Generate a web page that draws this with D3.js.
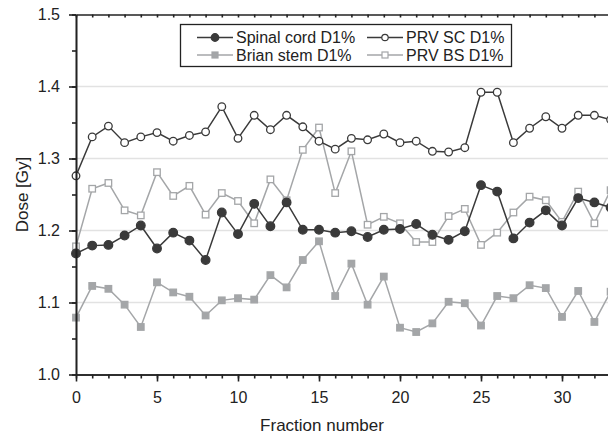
<!DOCTYPE html>
<html>
<head>
<meta charset="utf-8">
<script src="https://cdn.jsdelivr.net/npm/d3@7"></script>
<style>
  body { margin: 0; background: #fff; }
  svg { display: block; font-family: "Liberation Sans", Arial, sans-serif; }
</style>
</head>
<body>
<script>
const W = 608, H = 436;
const margin = { left: 76, top: 14.5 };
const plotH = 360;

// fraction numbers 0..33
const fractions = d3.range(0, 34);

const spinalCord = [1.168, 1.179, 1.180, 1.193, 1.207, 1.175, 1.197, 1.186, 1.159, 1.225,
  1.195, 1.237, 1.206, 1.239, 1.201, 1.201, 1.197, 1.199, 1.191, 1.201,
  1.202, 1.209, 1.194, 1.187, 1.199, 1.263, 1.254, 1.189, 1.211, 1.228,
  1.207, 1.245, 1.239, 1.232];
const prvSC = [1.276, 1.330, 1.345, 1.322, 1.330, 1.336, 1.324, 1.332, 1.337, 1.372,
  1.328, 1.360, 1.340, 1.360, 1.344, 1.324, 1.313, 1.328, 1.326, 1.334,
  1.322, 1.324, 1.310, 1.309, 1.315, 1.392, 1.392, 1.322, 1.342, 1.358,
  1.342, 1.360, 1.360, 1.354];
const brainStem = [1.079, 1.123, 1.119, 1.097, 1.066, 1.128, 1.114, 1.108, 1.082, 1.103,
  1.106, 1.104, 1.138, 1.121, 1.159, 1.185, 1.109, 1.154, 1.097, 1.136,
  1.065, 1.059, 1.071, 1.101, 1.099, 1.068, 1.109, 1.106, 1.124, 1.120,
  1.080, 1.116, 1.073, 1.115];
const prvBS = [1.178, 1.258, 1.266, 1.228, 1.221, 1.281, 1.248, 1.262, 1.222, 1.252,
  1.241, 1.210, 1.271, 1.242, 1.312, 1.343, 1.252, 1.310, 1.208, 1.219,
  1.210, 1.184, 1.184, 1.220, 1.230, 1.180, 1.197, 1.225, 1.247, 1.242,
  1.212, 1.254, 1.210, 1.256];

const xTicks = [0, 5, 10, 15, 20, 25, 30];
const yTicks = [1.0, 1.1, 1.2, 1.3, 1.4, 1.5];
const yGrid = [1.1, 1.2, 1.3, 1.4];

const dark = '#3a3a3a';
const gray = '#a4a6a8';

const series = [
  { name: 'Brian stem D1%', values: brainStem, color: gray, shape: 'square', fill: gray },
  { name: 'PRV BS D1%', values: prvBS, color: gray, shape: 'square', fill: '#fff' },
  { name: 'PRV SC D1%', values: prvSC, color: dark, shape: 'circle', fill: '#fff' },
  { name: 'Spinal cord D1%', values: spinalCord, color: dark, shape: 'circle', fill: dark }
];

const x = d3.scaleLinear().domain([0, 35]).range([margin.left, margin.left + 35 * 16.2]);
const y = d3.scaleLinear().domain([1.0, 1.5]).range([margin.top + plotH, margin.top]);

const svg = d3.select('body').append('svg').attr('width', W).attr('height', H);

// grid
svg.append('g').selectAll('line').data(yGrid).enter().append('line')
  .attr('x1', x(0)).attr('x2', x(35))
  .attr('y1', d => y(d)).attr('y2', d => y(d))
  .attr('stroke', '#e2e2e2').attr('stroke-width', 1.5);

// series
const line = d3.line().x((d, i) => x(fractions[i])).y(d => y(d));

series.forEach(s => {
  const g = svg.append('g');
  g.append('path').datum(s.values)
    .attr('d', line)
    .attr('fill', 'none')
    .attr('stroke', s.color)
    .attr('stroke-width', 1.5);
  if (s.shape === 'circle') {
    g.selectAll('circle').data(s.values).enter().append('circle')
      .attr('cx', (d, i) => x(fractions[i]))
      .attr('cy', d => y(d))
      .attr('r', s.fill === '#fff' ? 3.8 : 4.3)
      .attr('fill', s.fill)
      .attr('stroke', s.color)
      .attr('stroke-width', 1.3);
  } else {
    const sz = 6.5;
    g.selectAll('rect').data(s.values).enter().append('rect')
      .attr('x', (d, i) => x(fractions[i]) - sz / 2)
      .attr('y', d => y(d) - sz / 2)
      .attr('width', sz).attr('height', sz)
      .attr('fill', s.fill)
      .attr('stroke', s.color)
      .attr('stroke-width', 1.3);
  }
});

// axes
const axisCol = '#222';
const styleAxis = g => {
  g.selectAll('path, line').attr('stroke', axisCol).attr('stroke-width', 1.6);
  g.selectAll('text').attr('fill', '#222').attr('font-size', 16).attr('font-family', '"Liberation Sans", Arial, sans-serif');
};

const xMinor = d3.range(0, 36);
const yMinor = d3.range(1.0, 1.5001, 0.05);

svg.append('g').attr('transform', `translate(0,${y(1.0)})`)
  .call(d3.axisBottom(x).tickValues(xMinor).tickSize(4).tickSizeOuter(0).tickFormat(''))
  .call(styleAxis);
svg.append('g').attr('transform', `translate(0,${y(1.0)})`)
  .call(d3.axisBottom(x).tickValues(xTicks).tickSize(7).tickSizeOuter(0).tickPadding(10))
  .call(styleAxis);

// top border with inward ticks
svg.append('g').attr('transform', `translate(0,${y(1.5)})`)
  .call(d3.axisBottom(x).tickValues(xMinor).tickSize(3).tickSizeOuter(0).tickFormat(''))
  .call(styleAxis);

svg.append('g').attr('transform', `translate(${x(0)},0)`)
  .call(d3.axisLeft(y).tickValues(yMinor).tickSize(4).tickSizeOuter(0).tickFormat(''))
  .call(styleAxis);
svg.append('g').attr('transform', `translate(${x(0)},0)`)
  .call(d3.axisLeft(y).tickValues(yTicks).tickSize(7).tickSizeOuter(0).tickPadding(9).tickFormat(d3.format('.1f')))
  .call(styleAxis);

// axis titles
svg.append('text')
  .attr('x', (x(0) + W) / 2 - 20).attr('y', 431)
  .attr('text-anchor', 'middle')
  .attr('font-size', 17).attr('fill', '#222')
  .text('Fraction number');

svg.append('text')
  .attr('transform', `translate(28,${(y(1.0) + y(1.5)) / 2}) rotate(-90)`)
  .attr('text-anchor', 'middle')
  .attr('font-size', 17).attr('fill', '#222')
  .text('Dose [Gy]');

// legend
const legend = svg.append('g');
legend.append('rect')
  .attr('x', 180.5).attr('y', 24.5).attr('width', 331).attr('height', 42)
  .attr('fill', '#fff').attr('stroke', '#222').attr('stroke-width', 1.3);

const legendItems = [
  { s: series[3], col: 0, row: 0 },
  { s: series[2], col: 1, row: 0 },
  { s: series[0], col: 0, row: 1 },
  { s: series[1], col: 1, row: 1 }
];
const colX = [197, 367];
const rowY = [37.5, 55];

legendItems.forEach(it => {
  const lx = colX[it.col], ly = rowY[it.row];
  const g = legend.append('g');
  g.append('line').attr('x1', lx).attr('x2', lx + 36).attr('y1', ly).attr('y2', ly)
    .attr('stroke', it.s.color).attr('stroke-width', 1.5);
  if (it.s.shape === 'circle') {
    g.append('circle').attr('cx', lx + 18).attr('cy', ly)
      .attr('r', it.s.fill === '#fff' ? 3.2 : 3.8)
      .attr('fill', it.s.fill).attr('stroke', it.s.color).attr('stroke-width', 1.2);
  } else {
    g.append('rect').attr('x', lx + 18 - 3).attr('y', ly - 3).attr('width', 6).attr('height', 6)
      .attr('fill', it.s.fill).attr('stroke', it.s.color).attr('stroke-width', 1.2);
  }
  g.append('text').attr('x', lx + 39).attr('y', ly + 5.5)
    .attr('font-size', 16).attr('fill', '#222')
    .text(it.s.name);
});
</script>
</body>
</html>
